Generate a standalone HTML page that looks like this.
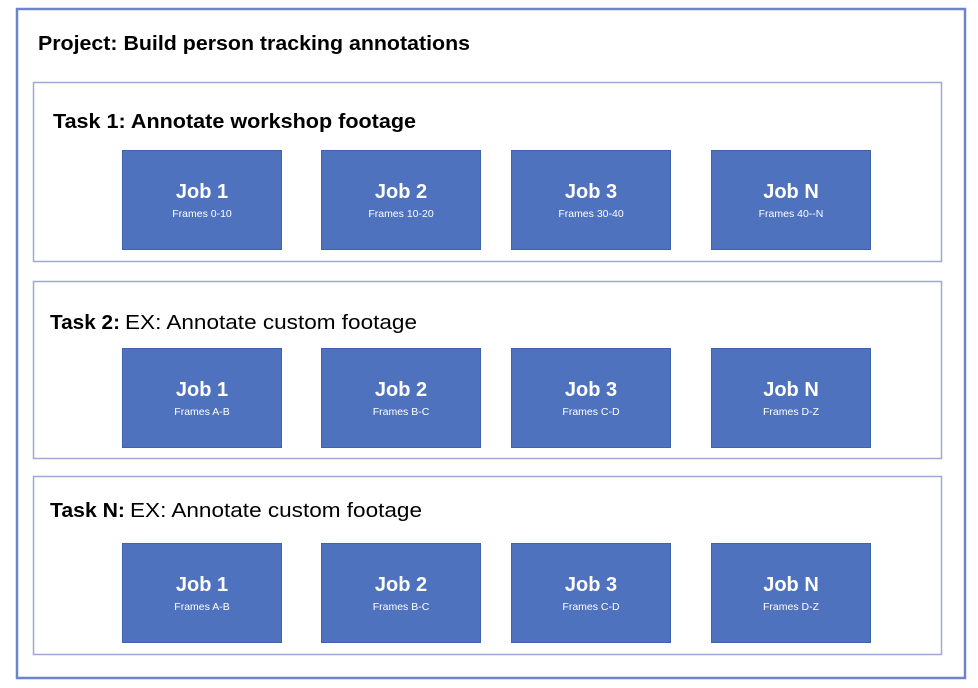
<!DOCTYPE html>
<html><head><meta charset="utf-8"><style>html,body{margin:0;padding:0;background:#fff}svg{display:block}</style></head>
<body>
<svg width="978" height="688" xmlns="http://www.w3.org/2000/svg" font-family="Liberation Sans, sans-serif">
<rect width="978" height="688" fill="#fff"/>
<rect x="17" y="9" width="948" height="669" fill="none" stroke="#6a86c8" stroke-width="2.5"/>
<text x="38" y="50" font-size="20" font-weight="bold" textLength="432" lengthAdjust="spacingAndGlyphs">Project: Build person tracking annotations</text>

<g fill="none" stroke="#9aaad2" stroke-width="1.5">
<rect x="33.5" y="82.5" width="908" height="179"/>
<rect x="33.5" y="281.5" width="908" height="177"/>
<rect x="33.5" y="476.5" width="908" height="178"/>
</g>
<text x="53" y="128" font-size="20" font-weight="bold" textLength="363" lengthAdjust="spacingAndGlyphs">Task 1: Annotate workshop footage</text>
<text x="50" y="329" font-size="20" font-weight="bold" textLength="70" lengthAdjust="spacingAndGlyphs">Task 2:</text>
<text x="125" y="329" font-size="20" textLength="292" lengthAdjust="spacingAndGlyphs">EX: Annotate custom footage</text>
<text x="50" y="517" font-size="20" font-weight="bold" textLength="75" lengthAdjust="spacingAndGlyphs">Task N:</text>
<text x="130" y="517" font-size="20" textLength="292" lengthAdjust="spacingAndGlyphs">EX: Annotate custom footage</text>

<g fill="#4f72be" stroke="#3f62ae" stroke-width="1">
<rect x="122.5" y="150.5" width="159" height="99"/><rect x="321.5" y="150.5" width="159" height="99"/><rect x="511.5" y="150.5" width="159" height="99"/><rect x="711.5" y="150.5" width="159" height="99"/>
<rect x="122.5" y="348.5" width="159" height="99"/><rect x="321.5" y="348.5" width="159" height="99"/><rect x="511.5" y="348.5" width="159" height="99"/><rect x="711.5" y="348.5" width="159" height="99"/>
<rect x="122.5" y="543.5" width="159" height="99"/><rect x="321.5" y="543.5" width="159" height="99"/><rect x="511.5" y="543.5" width="159" height="99"/><rect x="711.5" y="543.5" width="159" height="99"/>
</g>
<g fill="#fff" text-anchor="middle">
<g font-size="20" font-weight="bold">
<text x="202" y="198">Job 1</text><text x="401" y="198">Job 2</text><text x="591" y="198">Job 3</text><text x="791" y="198">Job N</text>
<text x="202" y="396">Job 1</text><text x="401" y="396">Job 2</text><text x="591" y="396">Job 3</text><text x="791" y="396">Job N</text>
<text x="202" y="591">Job 1</text><text x="401" y="591">Job 2</text><text x="591" y="591">Job 3</text><text x="791" y="591">Job N</text>
</g>
<g font-size="10.5">
<text x="202" y="217">Frames 0-10</text><text x="401" y="217">Frames 10-20</text><text x="591" y="217">Frames 30-40</text><text x="791" y="217">Frames 40--N</text>
<text x="202" y="415">Frames A-B</text><text x="401" y="415">Frames B-C</text><text x="591" y="415">Frames C-D</text><text x="791" y="415">Frames D-Z</text>
<text x="202" y="610">Frames A-B</text><text x="401" y="610">Frames B-C</text><text x="591" y="610">Frames C-D</text><text x="791" y="610">Frames D-Z</text>
</g>
</g>
</svg>
</body></html>
